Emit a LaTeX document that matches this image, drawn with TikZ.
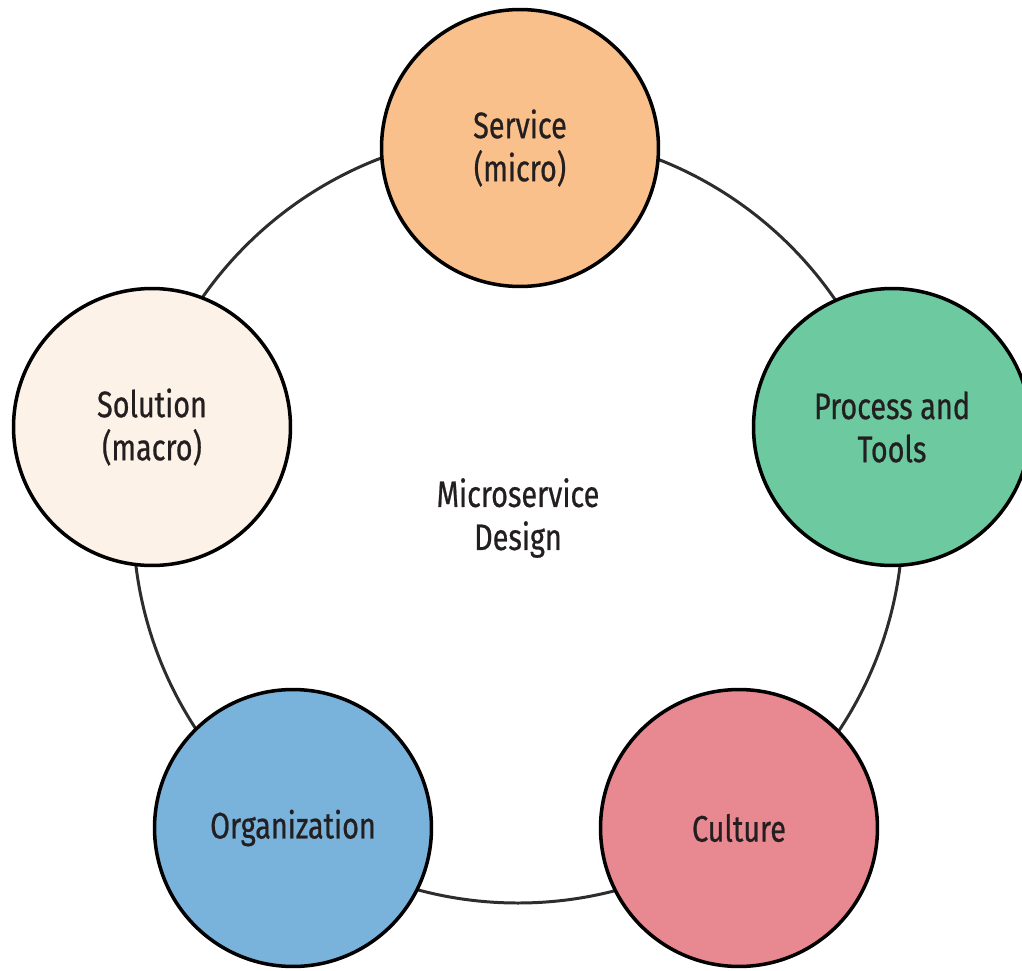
\documentclass[tikz,border=0pt]{standalone}
\usepackage{fontspec}
\setmainfont[FakeStretch=0.78, FakeBold=0.6]{Fira Sans}
\usepackage{tikz}

\definecolor{svcorange}{RGB}{250,192,140}
\definecolor{procgreen}{RGB}{108,201,160}
\definecolor{solpeach}{RGB}{253,242,232}
\definecolor{orgblue}{RGB}{121,178,218}
\definecolor{cultpink}{RGB}{232,136,144}
\definecolor{inkgray}{RGB}{35,31,32}
\definecolor{ringgray}{RGB}{45,45,45}

\begin{document}
\begin{tikzpicture}[x=0.02cm, y=-0.02cm,
  topic/.style={circle, draw=black, line width=2pt, minimum size=5.54cm, align=center, text=inkgray, font=\fontsize{21}{24.5}\selectfont},
  ring/.style={draw=ringgray, line width=1.7pt}]
			\useasboundingbox (0,0) rectangle (1022,971);
			\node[align=center, text=inkgray, font=\fontsize{21}{24.5}\selectfont] (design) at (518,518){Microservice\\Design};
			% ring round the hub, behind the topics
			\draw[ring] (design.center) circle[radius=385];
			\node[topic, fill=svcorange] (svc) at (520,148){Service\\(micro)};
			\node[topic, fill=procgreen] (proc) at (892,427){Process and\\Tools};
			\node[topic, fill=cultpink] (cult) at (739,828){Culture};
			\node[topic, fill=orgblue] (org) at (293,828){Organization};
			\node[topic, fill=solpeach] (sol) at (152,427){Solution\\(macro)};
			\end{tikzpicture}
\end{document}
